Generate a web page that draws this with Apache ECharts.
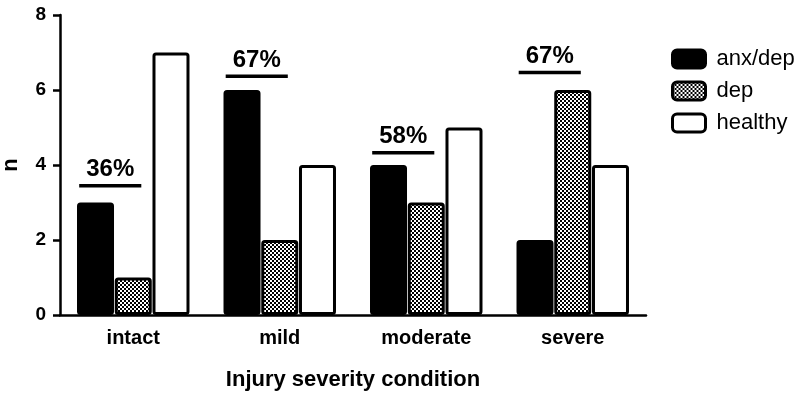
<!DOCTYPE html>
<html><head><meta charset="utf-8">
<script src="https://cdn.jsdelivr.net/npm/echarts@6/dist/echarts.min.js"></script>
<style>html,body{margin:0;padding:0;background:#fff}#c{width:800px;height:400px}</style>
</head><body><div id="c"></div>
<script>
var categories = ['intact', 'mild', 'moderate', 'severe'];
var anxDep = [3, 6, 4, 2];
var dep = [1, 2, 3, 6];
var healthy = [7, 4, 5, 4];
var bracketValues = [3.45, 6.37, 4.33, 6.47];
var bracketLabels = ['36%', '67%', '58%', '67%'];
var yTicks = [0, 2, 4, 6, 8];

var FONT = '"Liberation Sans", Arial, sans-serif';

function checker() {
  var c = document.createElement('canvas');
  c.width = 4; c.height = 4;
  var g = c.getContext('2d');
  g.fillStyle = '#fff'; g.fillRect(0, 0, 4, 4);
  g.fillStyle = '#000';
  g.fillRect(0, 0, 2, 2); g.fillRect(2, 2, 2, 2);
  return c;
}
var pattern = { image: checker(), repeat: 'repeat' };

var chart = echarts.init(document.getElementById('c'), null, { renderer: 'canvas' });

function barSeries(name, data, fill) {
  return {
    name: name, type: 'bar', data: data,
    barWidth: 37, barGap: '2%',
    itemStyle: { color: fill, borderColor: '#000', borderWidth: 3, borderRadius: 2 },
    emphasis: { disabled: true },
    animation: false
  };
}

var bracketData = categories.map(function (c, i) { return [i, bracketValues[i], bracketLabels[i]]; });

chart.setOption({
  animation: false,
  grid: { left: 60, right: 154, top: 15, bottom: 85, containLabel: false, outerBoundsMode: 'none' },
  legend: {
    data: ['anx/dep', 'dep', 'healthy'],
    orient: 'vertical', left: 666, top: 43,
    itemWidth: 33, itemHeight: 18, itemGap: 10,
    selectedMode: false,
    itemStyle: { borderWidth: 3, borderColor: '#000' },
    textStyle: { fontFamily: FONT, fontSize: 22, color: '#000', padding: [0, 0, 0, 6] }
  },
  xAxis: {
    type: 'category', data: categories,
    name: 'Injury severity condition', nameLocation: 'middle', nameGap: 54,
    nameTextStyle: { fontFamily: FONT, fontSize: 22, fontWeight: 'bold', color: '#000' },
    axisLine: { lineStyle: { color: '#000', width: 2.5 } },
    axisTick: { alignWithLabel: true, length: 7, lineStyle: { color: '#000', width: 2.5 } },
    axisLabel: { fontFamily: FONT, fontSize: 20, fontWeight: 'bold', color: '#000', margin: 13 }
  },
  yAxis: {
    type: 'value', min: yTicks[0], max: yTicks[yTicks.length - 1], interval: 2,
    name: 'n', nameLocation: 'middle', nameGap: 38, nameRotate: 90,
    nameTextStyle: { fontFamily: FONT, fontSize: 22, fontWeight: 'bold', color: '#000' },
    axisLine: { show: true, lineStyle: { color: '#000', width: 2.5 } },
    axisTick: { show: true, length: 7, lineStyle: { color: '#000', width: 2.5 } },
    splitLine: { show: false },
    axisLabel: { fontFamily: FONT, fontSize: 19, fontWeight: 'bold', color: '#000', margin: 14 }
  },
  series: [
    barSeries('anx/dep', anxDep, '#000'),
    barSeries('dep', dep, pattern),
    barSeries('healthy', healthy, '#fff'),
    {
      type: 'custom', name: 'brackets', data: bracketData, z: 10,
      renderItem: function (params, api) {
        var p = api.coord([api.value(0), api.value(1)]);
        var band = api.size([1, 0])[0];
        var x1 = p[0] - 0.369 * band, x2 = p[0] + 0.055 * band;
        return {
          type: 'group', children: [
            { type: 'line', shape: { x1: x1, y1: p[1], x2: x2, y2: p[1] }, style: { stroke: '#000', lineWidth: 3.5 } },
            { type: 'text', x: (x1 + x2) / 2, y: p[1] - 4,
              style: { text: bracketLabels[params.dataIndex], fontFamily: FONT, fontSize: 24, fontWeight: 'bold', fill: '#000', align: 'center', verticalAlign: 'bottom' } }
          ]
        };
      }
    }
  ]
});
</script></body></html>
